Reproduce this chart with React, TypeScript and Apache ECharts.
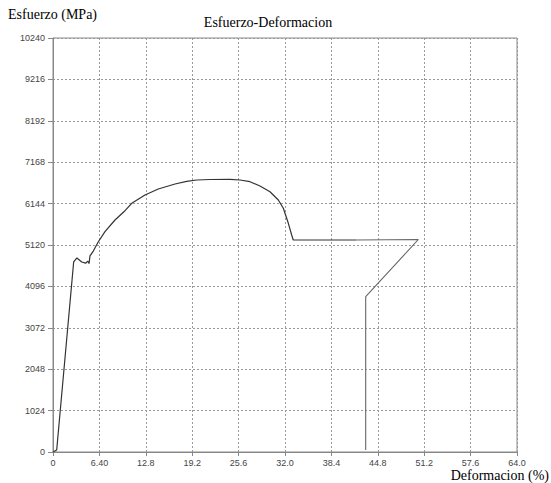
import React, { useEffect, useRef } from "react";
import * as echarts from "echarts";

// Deformacion (%) values along the recorded curve
const strainPct = [
  0, 0.51, 2.85, 3.3, 3.96, 4.5, 4.8, 4.97, 5.1, 5.56, 6.25, 7.17, 8.55, 9.93, 10.86, 12.69,
  14.52, 16.83, 18.44, 19.82, 21.66, 24.41, 25.79, 27.17, 28.55, 29.93, 31.08, 31.77, 32.46,
  32.92, 33.14, 41.79, 50.39, 43.13, 43.13,
];
// Esfuerzo (MPa) values along the recorded curve
const stressMPa = [
  0, 49, 4700, 4800, 4700, 4670, 4720, 4660, 4850, 4970, 5200, 5449, 5738, 5968, 6151, 6357,
  6505, 6629, 6695, 6728, 6740, 6745, 6728, 6686, 6579, 6438, 6233, 6028, 5657,
  5367, 5244, 5244, 5256, 3841, 49,
];
const splitIndex = 31; // after this point the trace is drawn lighter
const xTickLabels = ["0", "6.40", "12.8", "19.2", "25.6", "32.0", "38.4", "44.8", "51.2", "57.6", "64.0"];
const yTickLabels = ["0", "1024", "2048", "3072", "4096", "5120", "6144", "7168", "8192", "9216", "10240"];

export default function App() {
  const ref = useRef<HTMLDivElement>(null);
  useEffect(() => {
    if (!ref.current) return;
    const chart = echarts.init(ref.current, undefined, { renderer: "svg" });
    const axisLabel = { fontFamily: "Liberation Sans", fontSize: 9, color: "#444" };
    const pts = strainPct.map((x, i) => [x, stressMPa[i]]);
    chart.setOption({
      animation: false,
      backgroundColor: "#fff",
      title: {
        text: "Esfuerzo-Deformacion",
        left: 263,
        textAlign: "center",
        top: 10,
        textStyle: { fontFamily: "Liberation Serif", fontSize: 14, fontWeight: "normal", color: "#000" },
      },
      graphic: [
        {
          type: "text",
          left: 8,
          top: 7,
          style: { text: "Esfuerzo (MPa)", font: "14px 'Liberation Serif'", fill: "#000" },
        },
        {
          type: "text",
          right: 2,
          top: 468,
          style: { text: "Deformacion (%)", font: "14px 'Liberation Serif'", fill: "#000" },
        },
      ],
      grid: { left: 53, top: 38, right: 34, bottom: 31, show: true, borderColor: "#888", borderWidth: 1 },
      xAxis: {
        type: "value",
        min: 0,
        max: 64,
        interval: 6.4,
        axisLine: { show: true, lineStyle: { color: "#888" } },
        axisTick: { show: true, length: 4, lineStyle: { color: "#888" } },
        axisLabel: {
          ...axisLabel,
          margin: 6,
          formatter: (v: number) => xTickLabels[Math.round(v / 6.4)] ?? "",
        },
        splitLine: { show: true, lineStyle: { color: "#999", type: [2, 2], width: 1 } },
      },
      yAxis: {
        type: "value",
        min: 0,
        max: 10240,
        interval: 1024,
        axisLine: { show: true, lineStyle: { color: "#888" } },
        axisTick: { show: true, length: 5, lineStyle: { color: "#888" } },
        axisLabel: {
          ...axisLabel,
          margin: 8,
          formatter: (v: number) => yTickLabels[Math.round(v / 1024)] ?? "",
        },
        splitLine: { show: true, lineStyle: { color: "#999", type: [2, 2], width: 1 } },
      },
      series: [
        {
          type: "line",
          data: pts.slice(0, splitIndex + 1),
          showSymbol: false,
          lineStyle: { color: "#333", width: 1.2 },
        },
        {
          type: "line",
          data: pts.slice(splitIndex),
          showSymbol: false,
          lineStyle: { color: "#666", width: 1.1 },
        },
      ],
    });
    return () => chart.dispose();
  }, []);
  return <div ref={ref} style={{ width: 551, height: 483, position: "absolute", left: 0, top: 0 }} />;
}
